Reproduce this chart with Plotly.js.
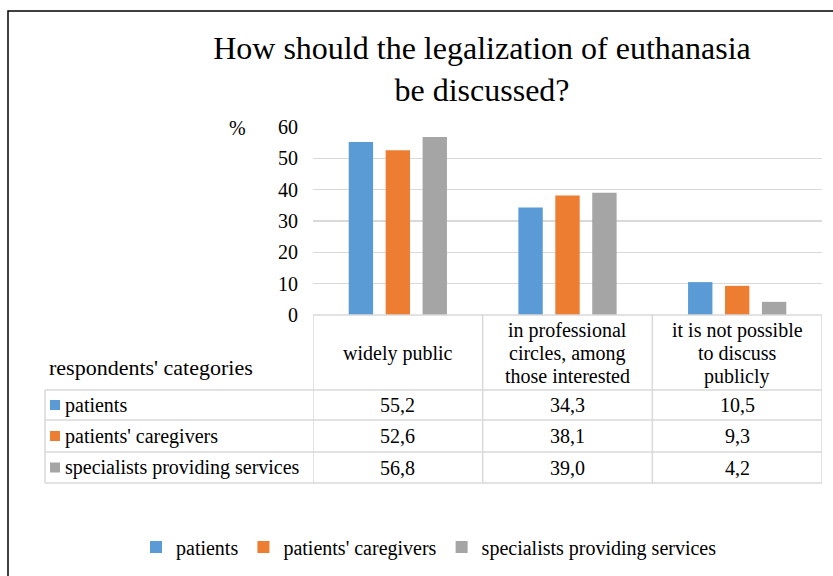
<!DOCTYPE html>
<html>
<head>
<meta charset="utf-8">
<script src="https://cdn.plot.ly/plotly-3.0.1.min.js"></script>
<style>html,body{margin:0;padding:0;background:#fff;}#chart{width:833px;height:576px;}</style>
</head>
<body>
<div id="chart"></div>
<script>
// ---- data ----
const categories = ['widely public', 'in professional circles, among those interested', 'it is not possible to discuss publicly'];
const headerLines = [['widely public'], ['in professional', 'circles, among', 'those interested'], ['it is not possible', 'to discuss', 'publicly']];
const seriesNames = ['patients', "patients' caregivers", 'specialists providing services'];
const patients = [55.2, 34.3, 10.5];
const caregivers = [52.6, 38.1, 9.3];
const specialists = [56.8, 39.0, 4.2];
const yTicks = [0, 10, 20, 30, 40, 50, 60];
const titleText = 'How should the legalization of euthanasia<br>be discussed?';
const rowHeaderLabel = "respondents' categories";
const unitLabel = '%';

// ---- styles ----
const colors = ['#5B9BD5', '#ED7D31', '#A5A5A5'];
const FONT = 'Liberation Serif, Times New Roman, serif';
const W = 833, H = 576;
const L = 313, R = 822, T = 127, B = 315;
const px = x => (x - L) / (R - L);
const py = y => (B - y) / (B - T);
const gridCol = '#D9D9D9';

const seriesValues = [patients, caregivers, specialists];
const fmt = v => v.toFixed(1).replace('.', ',');

const traces = seriesValues.map((vals, i) => ({
  type: 'bar',
  name: seriesNames[i],
  x: categories,
  y: vals,
  marker: {color: colors[i]},
  hovertemplate: '%{y:.1f}<extra>' + seriesNames[i] + '</extra>'
}));

const shapes = [];
const annotations = [];

// outer border
shapes.push({type: 'rect', xref: 'paper', yref: 'paper', x0: px(8), x1: px(845), y0: py(590), y1: py(11),
  line: {color: '#000', width: 1.5}, fillcolor: 'rgba(0,0,0,0)', layer: 'below'});

// table lines
const rowY = [390, 420, 452, 483];
shapes.push({type: 'line', xref: 'x', yref: 'paper', x0: -0.5, x1: categories.length - 0.5, y0: py(B), y1: py(B), line: {color: gridCol, width: 1.5}});
rowY.forEach(y => shapes.push({type: 'line', xref: 'paper', yref: 'paper', x0: px(45), x1: px(R), y0: py(y), y1: py(y), line: {color: gridCol, width: 1.5}}));
for (let k = 0; k <= categories.length; k++) {
  shapes.push({type: 'line', xref: 'x', yref: 'paper', x0: k - 0.5, x1: k - 0.5, y0: py(B), y1: py(483), line: {color: gridCol, width: 1.5}});
}
shapes.push({type: 'line', xref: 'paper', yref: 'paper', x0: px(45), x1: px(45), y0: py(390), y1: py(483), line: {color: gridCol, width: 1.5}});

// header texts
const lineH = 23;
headerLines.forEach((lines, c) => {
  const mid = 353;
  lines.forEach((t, j) => {
    const yc = mid + (j - (lines.length - 1) / 2) * lineH;
    annotations.push({xref: 'x', yref: 'paper', x: c, y: py(yc), text: t, showarrow: false,
      xanchor: 'center', yanchor: 'middle', font: {family: FONT, size: 20, color: '#000'}});
  });
});

// row header
annotations.push({xref: 'paper', yref: 'paper', x: px(47), y: py(367), text: rowHeaderLabel, showarrow: false,
  xanchor: 'left', yanchor: 'middle', font: {family: FONT, size: 22, color: '#000'}});

// rows
const rowMid = [405, 436, 467.5];
seriesNames.forEach((name, i) => {
  shapes.push({type: 'rect', xref: 'paper', yref: 'paper', x0: px(50), x1: px(60), y0: py(rowMid[i] + 5), y1: py(rowMid[i] - 5),
    line: {width: 0}, fillcolor: colors[i]});
  annotations.push({xref: 'paper', yref: 'paper', x: px(63), y: py(rowMid[i]), text: name, showarrow: false,
    xanchor: 'left', yanchor: 'middle', font: {family: FONT, size: 20, color: '#000'}});
  seriesValues[i].forEach((v, c) => {
    annotations.push({xref: 'x', yref: 'paper', x: c, y: py(rowMid[i]), text: fmt(v), showarrow: false,
      xanchor: 'center', yanchor: 'middle', font: {family: FONT, size: 20, color: '#000'}});
  });
});

// unit label
annotations.push({xref: 'paper', yref: 'paper', x: px(237), y: py(128), text: unitLabel, showarrow: false,
  xanchor: 'center', yanchor: 'middle', font: {family: FONT, size: 20, color: '#000'}});

const layout = {
  width: W, height: H,
  margin: {l: L, r: W - R, t: T, b: H - B, pad: 0, autoexpand: false},
  paper_bgcolor: '#fff', plot_bgcolor: '#fff',
  font: {family: FONT, size: 20, color: '#000'},
  separators: ',.',
  title: {text: titleText, font: {family: FONT, size: 32, color: '#000'},
    xref: 'container', x: 482 / W, xanchor: 'center', yref: 'container', y: 1 - 59 / H, yanchor: 'top', automargin: false},
  barmode: 'group',
  bargap: 0.347,
  bargroupgap: 0.34,
  xaxis: {type: 'category', range: [-0.5, 2.5], showticklabels: false, showgrid: false, zeroline: false, showline: false, ticks: '', fixedrange: true},
  yaxis: {range: [0, 60], tickvals: yTicks, ticktext: yTicks.map(String), showgrid: true, gridcolor: gridCol, gridwidth: 1.5,
    zeroline: false, showline: false, ticks: '', ticklabelstandoff: 14, tickfont: {family: FONT, size: 20, color: '#000'}, fixedrange: true},
  showlegend: true,
  legend: {orientation: 'h', xref: 'paper', yref: 'paper', x: px(136), xanchor: 'left', y: py(547), yanchor: 'middle',
    font: {family: FONT, size: 20, color: '#000'}, itemwidth: 30, bgcolor: 'rgba(0,0,0,0)', traceorder: 'normal'},
  shapes: shapes,
  annotations: annotations
};

Plotly.newPlot('chart', traces, layout, {displayModeBar: false, staticPlot: true});
</script>
</body>
</html>
